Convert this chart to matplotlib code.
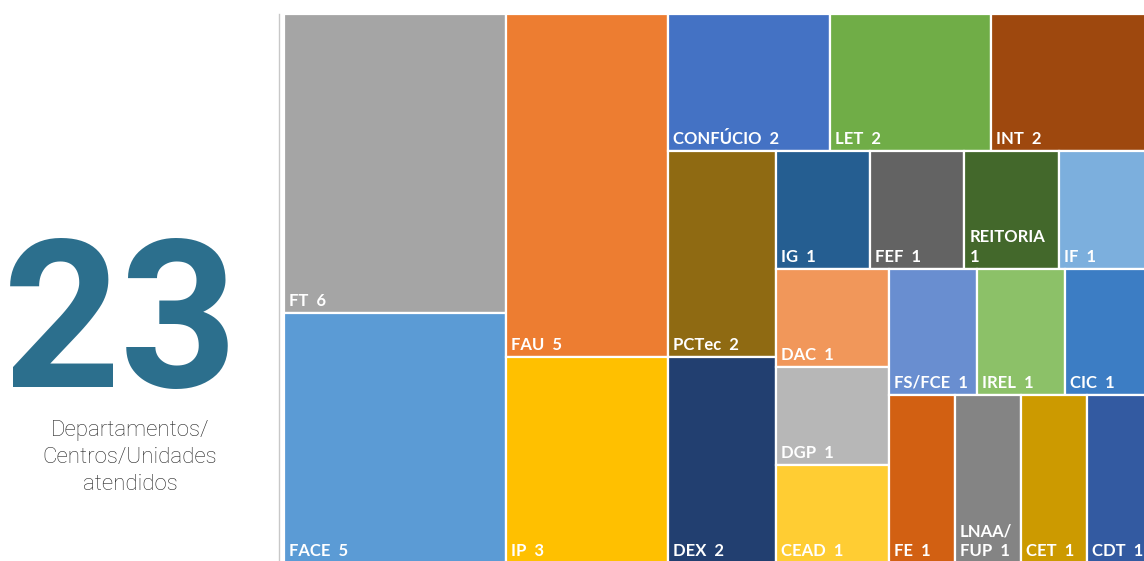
import matplotlib.pyplot as plt
from matplotlib.patches import Rectangle
from matplotlib.lines import Line2D

# treemap data, in drawing order
names = ["FT", "FACE", "FAU", "IP", "CONFÚCIO", "LET", "INT", "PCTec", "DEX",
         "IG", "FEF", "REITORIA", "IF", "DAC", "DGP", "CEAD",
         "FS/FCE", "IREL", "CIC", "FE", "LNAA/FUP", "CET", "CDT"]
values = [6, 5, 5, 3, 2, 2, 2, 2, 2,
          1, 1, 1, 1, 1, 1, 1,
          1, 1, 1, 1, 1, 1, 1]
colors = ["#A5A5A5", "#5B9BD5", "#ED7D31", "#FFC000", "#4472C4", "#70AD47", "#9E480E",
          "#8F6A12", "#223F70", "#255E91", "#636363", "#43682B", "#7CAFDD",
          "#F1975A", "#B7B7B7", "#FFCD33", "#698ED0", "#8CC168", "#3C7DC4",
          "#D26012", "#848484", "#CC9A00", "#335AA1"]

total_label = "23"
subtitle = ["Departamentos/", "Centros/Unidades", "atendidos"]

# strips of the layout: (number of items, direction)
strips = [(2, "col"), (2, "col"), (3, "row"), (2, "col"),
          (4, "row"), (3, "col"), (3, "row"), (4, "row")]


def strip_layout(vals, groups, x, y, w, h):
    rects = []
    i = 0
    rest = sum(vals)
    for n, kind in groups:
        part = vals[i:i + n]
        s = sum(part)
        if kind == "col":
            cw = w * s / rest
            yy = y
            for v in part:
                ch = h * v / s
                rects.append((x, yy, cw, ch))
                yy += ch
            x += cw
            w -= cw
        else:
            rh = h * s / rest
            xx = x
            for v in part:
                rw = w * v / s
                rects.append((xx, y, rw, rh))
                xx += rw
            y += rh
            h -= rh
        rest -= s
        i += n
    return rects


W, H = 869, 549  # treemap size in pixels
fig = plt.figure(figsize=(11.44, 5.61), dpi=100)
ax = fig.add_axes([284 / 1144, -2 / 561, W / 1144, H / 561])
ax.set_xlim(0, W)
ax.set_ylim(H, 0)
ax.axis("off")

rects = strip_layout(values, strips, 0, 0, W, H)
renderer = fig.canvas.get_renderer()

for (x, y, w, h), name, v, c in zip(rects, names, values, colors):
    ax.add_patch(Rectangle((x, y), w, h, facecolor=c, edgecolor="white", lw=1.6))
    t = ax.text(x + 5, y + h - 4, f"{name}  {v}", color="white", fontsize=12,
                fontweight="bold", family="Lato", ha="left", va="bottom",
                linespacing=1.3)
    if t.get_window_extent(renderer).width > w - 8:
        if "/" in name:
            a, b = name.split("/", 1)
            t.set_text(f"{a}/\n{b}  {v}")
        else:
            t.set_text(f"{name}\n{v}")

fig.add_artist(Line2D([279 / 1144] * 2, [1 - 14 / 561, 0], color="#C8C8C8", lw=1))

fig.text(121 / 1144, 1 - 387 / 561, total_label, ha="center", va="baseline",
         fontsize=148, fontweight="bold", family="Roboto", color="#2C6F8D")
for k, line in enumerate(subtitle):
    fig.text(130 / 1144, 1 - (436 + 27 * k) / 561, line, ha="center", va="baseline",
             fontsize=16, family="Roboto", fontweight="light", color="#262626")

fig.savefig("out.png", dpi=100)
